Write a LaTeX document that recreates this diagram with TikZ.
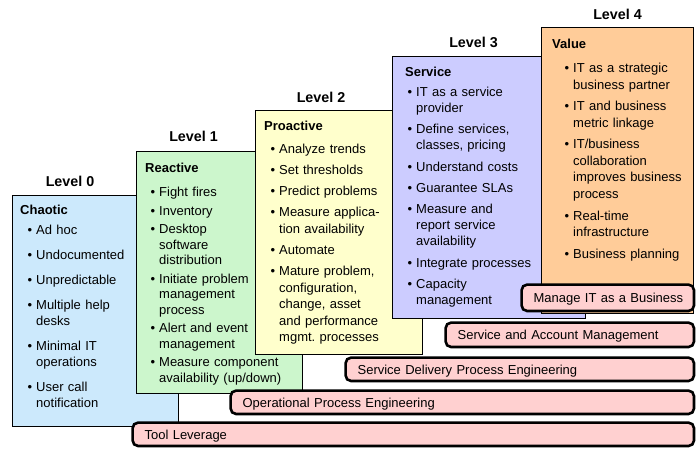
\documentclass[tikz,border=0pt]{standalone}
\usepackage{fontspec}
\setmainfont{Liberation Sans}
\definecolor{chaoticblue}{HTML}{CCE9FC}
\definecolor{reactivegreen}{HTML}{CCF6CC}
\definecolor{proactiveyellow}{HTML}{FFFFCC}
\definecolor{servicelilac}{HTML}{CCCCFF}
\definecolor{valueorange}{HTML}{FFCC99}
\definecolor{barpink}{HTML}{FFD0D0}
\newcommand{\bul}{\leavevmode\llap{\textbullet\hspace{4pt}}}
\begin{document}
\begin{tikzpicture}[x=1pt, y=-1pt,
  lvbox/.style={draw, line width=0.8pt, anchor=north west, inner sep=0pt},
  lvlabel/.style={inner sep=0pt, font=\bfseries\fontsize{14.3}{16}\selectfont},
  lvtitle/.style={anchor=base west, inner sep=0pt, font=\bfseries\fontsize{13}{16}\selectfont},
  lvitems/.style={anchor=base west, inner sep=0pt, text width=160pt, align=left,
    font=\fontsize{13}{#1}\selectfont},
  bar/.style={draw, line width=2.6pt, rounded corners=5.5pt, fill=barpink,
    anchor=north west, inner xsep=12pt, inner ysep=0pt, align=left,
    text height=9.5pt, text depth=0pt, font=\fontsize{13}{16}\selectfont}
  ]
  \useasboundingbox (0,0) rectangle (699,456);

  \node[lvbox, fill=chaoticblue, minimum width=166pt, minimum height=231pt] (lvl0) at (12,195) {};
  \node[lvlabel] (lab0) at (70,181) {Level 0};
  \node[lvtitle] (title0) at (20,214) {Chaotic};
  \node[lvitems=16pt] (items0) at (36,234.5) {\bul Ad hoc\\[9pt]
    \bul Undocumented\\[9pt]
    \bul Unpredictable\\[9pt]
    \bul Multiple help\\ desks\\[9pt]
    \bul Minimal IT\\ operations\\[9pt]
    \bul User call\\ notification};

  \node[lvbox, fill=reactivegreen, minimum width=166pt, minimum height=242pt] (lvl1) at (136,151) {};
  \node[lvlabel] (lab1) at (193.5,136) {Level 1};
  \node[lvtitle] (title1) at (145,172) {Reactive};
  \node[lvitems=15.5pt] (items1) at (159,196.5) {\bul Fight fires\\[3pt]
    \bul Inventory\\[3pt]
    \bul Desktop\\ software\\ distribution\\[3pt]
    \bul Initiate problem\\ management\\ process\\[3pt]
    \bul Alert and event\\ management\\[3pt]
    \bul Measure component\\ availability (up/down)};

  \node[lvbox, fill=proactiveyellow, minimum width=167pt, minimum height=244pt] (lvl2) at (255,110) {};
  \node[lvlabel] (lab2) at (321,97) {Level 2};
  \node[lvtitle] (title2) at (264,130) {Proactive};
  \node[lvitems=16.5pt] (items2) at (279,153.5) {\bul Analyze trends\\[4.6pt]
    \bul Set thresholds\\[4.6pt]
    \bul Predict problems\\[4.6pt]
    \bul Measure applica-\\ tion availability\\[4.6pt]
    \bul Automate\\[4.6pt]
    \bul Mature problem,\\ configuration,\\ change, asset\\ and performance\\ mgmt.\ processes};

  \node[lvbox, fill=servicelilac, minimum width=193pt, minimum height=262pt] (lvl3) at (392,56) {};
  \node[lvlabel] (lab3) at (473.5,42) {Level 3};
  \node[lvtitle] (title3) at (405,76.5) {Service};
  \node[lvitems=16pt] (items3) at (416,96.5) {\bul IT as a service\\ provider\\[5.3pt]
    \bul Define services,\\ classes, pricing\\[5.3pt]
    \bul Understand costs\\[5.3pt]
    \bul Guarantee SLAs\\[5.3pt]
    \bul Measure and\\ report service\\ availability\\[5.3pt]
    \bul Integrate processes\\[5.3pt]
    \bul Capacity\\ management};

  \node[lvbox, fill=valueorange, minimum width=152pt, minimum height=286pt] (lvl4) at (541,27) {};
  \node[lvlabel] (lab4) at (617.5,14) {Level 4};
  \node[lvtitle] (title4) at (552,48.5) {Value};
  \node[lvitems=16.5pt] (items4) at (573,72.5) {\bul IT as a strategic\\ business partner\\[5.2pt]
    \bul IT and business\\ metric linkage\\[5.2pt]
    \bul IT/business\\ collaboration\\ improves business\\ process\\[5.2pt]
    \bul Real-time\\ infrastructure\\[5.2pt]
    \bul Business planning};

  \node[bar, text width=148.4pt, minimum height=26.4pt] (manage) at (520.3,283.3) {\mbox{Manage IT as a Business}};
  \node[bar, text width=224.4pt, minimum height=24.4pt] (account) at (444.3,321.3) {\mbox{Service and Account Management}};
  \node[bar, text width=324.4pt, minimum height=23.4pt] (delivery) at (344.3,356.3) {Service Delivery Process Engineering};
  \node[bar, text width=439.4pt, minimum height=23.4pt] (operational) at (229.3,389.3) {Operational Process Engineering};
  \node[bar, text width=537.4pt, minimum height=23.4pt] (tool) at (131.3,421.3) {Tool Leverage};
\end{tikzpicture}
\end{document}
